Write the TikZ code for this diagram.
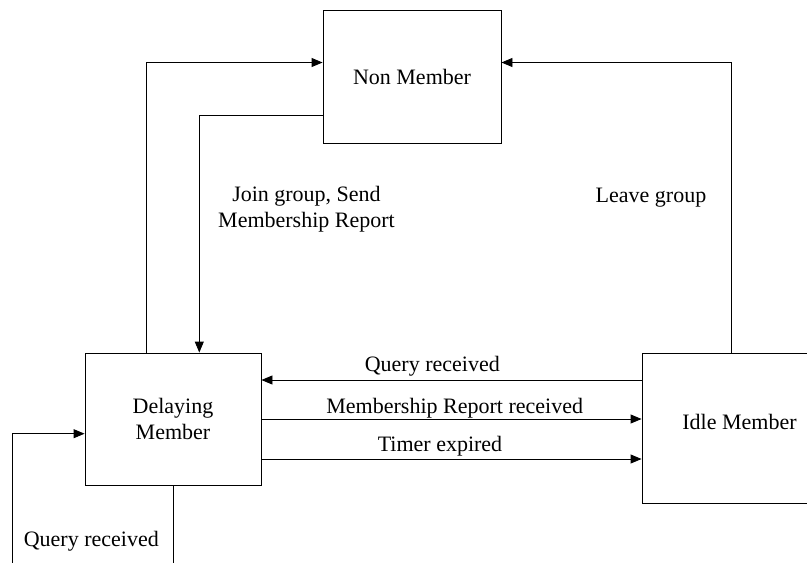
\documentclass[tikz,border=0pt]{standalone}
\usepackage{fontspec}
\setmainfont{Liberation Serif}
\usetikzlibrary{arrows.meta}

\begin{document}
\begin{tikzpicture}[
    x=1pt, y=-1pt,
    every node/.style={font=\fontsize{22}{26.5}\selectfont},
    state/.style={draw=black, line width=0.9pt, inner sep=0pt, align=center},
    lbl/.style={inner sep=0pt, anchor=base},
    arr/.style={draw=black, line width=0.9pt, -{Triangle[length=11pt, width=9pt]}}
  ]
  % canvas
  \useasboundingbox (0,0) rectangle (807,563);
  \fill[white] (0,0) rectangle (807,563);
  \clip (0,0) rectangle (807,563);

  % states
  \node[state, minimum width=178pt, minimum height=133pt] (nm) at (412,76.5) {Non Member};
  \node[state, minimum width=176pt, minimum height=132pt] (dm) at (173,419) {Delaying\\Member};
  \node[state, minimum width=195pt, minimum height=150pt, text depth=12.4pt] (im) at (739.5,428) {Idle Member};

  % transitions between Non Member and Delaying Member
  \draw[arr] ([xshift=-27pt]dm.north) |- ([yshift=14pt]nm.west);
  \draw[arr] ([yshift=-38.5pt]nm.west) -| ([xshift=26.3pt]dm.north);
  \node[inner sep=0pt, align=center] (join) at (306.5,209) {Join group, Send\\Membership Report};

  % Idle Member back to Non Member
  \draw[arr] ([xshift=-7.8pt]im.north) |- ([yshift=14pt]nm.east);
  \node[lbl] (leave) at (651,202.7) {Leave group};

  % transitions between Delaying Member and Idle Member
  \draw[arr] ([yshift=48pt]im.west) coordinate (q) -- (q -| dm.east);
  \node[lbl] (lq) at (432.3,371.5) {Query received};
  \draw[arr] (dm.east) -- (dm.east -| im.west);
  \node[lbl] (lm) at (454.7,413.5) {Membership Report received};
  \draw[arr] ([yshift=-40pt]dm.east) coordinate (t) -- (t -| im.west);
  \node[lbl] (lt) at (440,451.7) {Timer expired};

  % self loop on Delaying Member
  \coordinate (lb) at (12.3,600);
  \draw[arr] (dm.south) |- (lb) |- ([yshift=-14.7pt]dm.west);
  \node[lbl] (lself) at (91.3,546) {Query received};
\end{tikzpicture}
\end{document}
